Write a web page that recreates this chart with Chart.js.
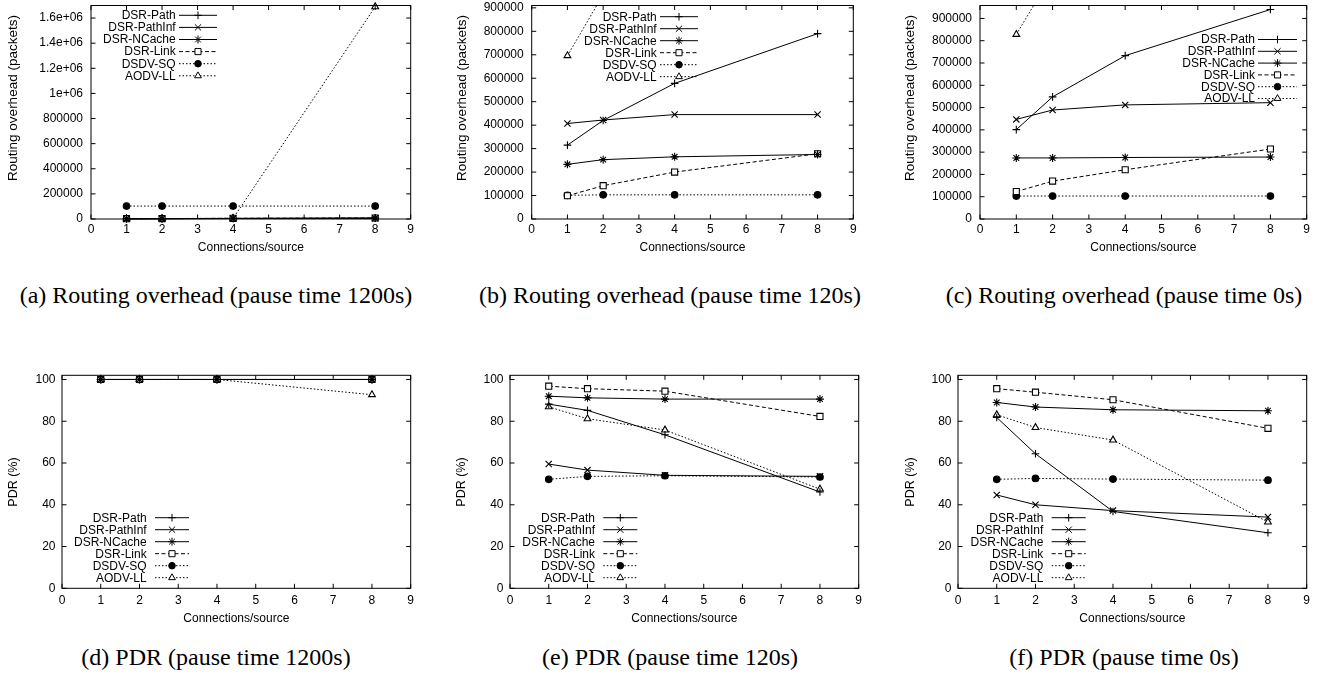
<!DOCTYPE html>
<html>
<head>
<meta charset="utf-8">
<script src="https://cdn.jsdelivr.net/npm/chart.js@4.4.1/dist/chart.umd.min.js"></script>
<style>
  body { margin: 0; background: #fff; }
  #page { position: relative; width: 1323px; height: 678px; overflow: hidden; background: #fff; }
  #page canvas { position: absolute; }
  .caption { position: absolute; width: 460px; text-align: center; white-space: nowrap;
             font: 24px/24px 'Liberation Serif', 'Times New Roman', serif; color: #000; }
</style>
</head>
<body>
<div id="page"></div>
<script>
// ---- data ----
const connections = [1, 2, 4, 8];
const protocols = ['DSR-Path', 'DSR-PathInf', 'DSR-NCache', 'DSR-Link', 'DSDV-SQ', 'AODV-LL'];

// tick values
const xTicks = [0, 1, 2, 3, 4, 5, 6, 7, 8, 9];
const overheadTicksWide = [0, 200000, 400000, 600000, 800000, 1000000, 1200000, 1400000, 1600000];
const overheadTicks = [0, 100000, 200000, 300000, 400000, 500000, 600000, 700000, 800000, 900000];
const pdrTicks = [0, 20, 40, 60, 80, 100];

// routing overhead in packets, one row per protocol (same order as above)
const overhead1200 = [
  [1500, 2500, 4000, 6000],
  [1500, 2500, 4000, 6000],
  [2000, 3000, 5000, 7000],
  [2500, 3500, 5500, 8000],
  [103000, 103000, 103000, 103000],
  [2000, 3000, 5000, 1690000]
];
const overhead120 = [
  [315000, 420000, 578000, 790000],
  [407000, 422000, 445000, 445000],
  [233000, 253000, 265000, 275000],
  [99000, 142000, 200000, 278000],
  [101000, 103000, 103000, 103000],
  [696000, 957000, 1350000, 1900000]
];
const overhead0 = [
  [401000, 548000, 733000, 940000],
  [447000, 489000, 512000, 522000],
  [274000, 274000, 276000, 278000],
  [123000, 170000, 221000, 314000],
  [103000, 103000, 103000, 103000],
  [828000, 1100000, 1500000, 2100000]
];

// packet delivery ratio in %
const pdr1200 = [
  [100, 100, 100, 100],
  [100, 100, 100, 100],
  [100, 100, 100, 100],
  [100, 100, 100, 100],
  [100, 100, 100, 100],
  [100, 100, 100, 92.7]
];
const pdr120 = [
  [88.2, 85.2, 73.5, 46.1],
  [59.5, 56.6, 54.1, 53.6],
  [92.0, 91.2, 90.6, 90.6],
  [96.8, 95.6, 94.4, 82.3],
  [52.2, 53.6, 53.9, 53.3],
  [86.9, 81.2, 75.8, 47.5]
];
const pdr0 = [
  [81.8, 64.4, 36.8, 26.6],
  [44.7, 40.0, 37.2, 34.1],
  [89.0, 86.8, 85.5, 85.0],
  [95.6, 93.9, 90.3, 76.6],
  [52.2, 52.6, 52.3, 51.8],
  [83.1, 77.0, 71.0, 31.7]
];

// ---- styles ----
const seriesStyle = [
  { dash: [],       point: 'cross',    r: 3.8, fill: '#000' },
  { dash: [],       point: 'crossRot', r: 4.4, fill: '#000' },
  { dash: [],       point: 'star',     r: 4.0, fill: '#000' },
  { dash: [4, 2.5], point: 'rect',     r: 4.3, fill: '#fff' },
  { dash: [1.5, 2], point: 'circle',   r: 3.3, fill: '#000' },
  { dash: [1.5, 2], point: 'triangle', r: 3.9, fill: '#fff' }
];

const FONT = "'Liberation Sans', Arial, Helvetica, sans-serif";

function gnuLabel(v) {
  if (v >= 1e6) return (Math.round(v / 1e5) / 10) + 'e+06';
  return String(v);
}

const panels = [
  { data: overhead1200, yTicks: overheadTicksWide, yMax: 1700000, yTitle: 'Routing overhead (packets)',
    caption: '(a) Routing overhead (pause time 1200s)', capX: 216, capTop: 283,
    box: { left: 0, top: 0, width: 425, height: 262 }, plot: { left: 91, right: 410.7, top: 5, bottom: 219 },
    yTitleX: 13.5, yTitleY: 98, yTitleSize: 13.5, yPad: 8, xPad: 3.8, xTitleY: 247.7,
    legend: { right: 175.7, x1: 179, x2: 217, y: 15.3, step: 12.1 } },
  { data: overhead120, yTicks: overheadTicks, yMax: 910000, yTitle: 'Routing overhead (packets)',
    caption: '(b) Routing overhead (pause time 120s)', capX: 670, capTop: 283,
    box: { left: 440, top: 0, width: 425, height: 262 }, plot: { left: 531.7, right: 853.3, top: 4.3, bottom: 219 },
    yTitleX: 462, yTitleY: 98, yTitleSize: 13.5, yPad: 8, xPad: 3.8, xTitleY: 247.7,
    legend: { right: 656.7, x1: 660, x2: 698, y: 16.7, step: 12 } },
  { data: overhead0, yTicks: overheadTicks, yMax: 958000, yTitle: 'Routing overhead (packets)',
    caption: '(c) Routing overhead (pause time 0s)', capX: 1124, capTop: 283,
    box: { left: 880, top: 0, width: 440, height: 262 }, plot: { left: 980, right: 1306.7, top: 4.3, bottom: 219 },
    yTitleX: 910.5, yTitleY: 98, yTitleSize: 13.5, yPad: 8, xPad: 3.8, xTitleY: 247.7,
    legend: { right: 1255, x1: 1258, x2: 1297, y: 39.5, step: 11.8 } },
  { data: pdr1200, yTicks: pdrTicks, yMax: 102, yTitle: 'PDR (%)',
    caption: '(d) PDR (pause time 1200s)', capX: 216, capTop: 645.2,
    box: { left: 0, top: 340, width: 425, height: 292 }, plot: { left: 62, right: 410.7, top: 375.3, bottom: 588.3 },
    yTitleX: 13.5, yTitleY: 482, yTitleSize: 12.5, yPad: 6.5, xPad: 5.5, xTitleY: 619,
    legend: { right: 146.7, x1: 155, x2: 189, y: 517.7, step: 12 } },
  { data: pdr120, yTicks: pdrTicks, yMax: 102, yTitle: 'PDR (%)',
    caption: '(e) PDR (pause time 120s)', capX: 670, capTop: 645.2,
    box: { left: 440, top: 340, width: 425, height: 292 }, plot: { left: 510, right: 858.7, top: 375.3, bottom: 588.3 },
    yTitleX: 461.5, yTitleY: 482, yTitleSize: 12.5, yPad: 6.5, xPad: 5.5, xTitleY: 619,
    legend: { right: 595, x1: 603.3, x2: 637.3, y: 517.7, step: 12 } },
  { data: pdr0, yTicks: pdrTicks, yMax: 102, yTitle: 'PDR (%)',
    caption: '(f) PDR (pause time 0s)', capX: 1124, capTop: 645.2,
    box: { left: 880, top: 340, width: 440, height: 292 }, plot: { left: 958, right: 1306.7, top: 375.3, bottom: 588.3 },
    yTitleX: 911, yTitleY: 482, yTitleSize: 12.5, yPad: 6.5, xPad: 5.5, xTitleY: 619,
    legend: { right: 1043.3, x1: 1051.7, x2: 1085.7, y: 517.7, step: 12 } }
];

// frame, inward mirrored ticks, y label and a gnuplot style key
const gnuplotDecor = {
  id: 'gnuplotDecor',
  afterDraw(chart, args, opts) {
    const p = opts.panel;
    const ctx = chart.ctx;
    const a = chart.chartArea;
    const xs = chart.scales.x, ys = chart.scales.y;
    const ox = p.box.left, oy = p.box.top;
    const tick = 4.5;
    ctx.save();
    ctx.strokeStyle = '#000';
    ctx.lineWidth = 1;
    ctx.setLineDash([]);
    ctx.beginPath();
    xs.ticks.forEach(t => {
      const x = xs.getPixelForValue(t.value);
      ctx.moveTo(x, a.bottom); ctx.lineTo(x, a.bottom - tick);
      ctx.moveTo(x, a.top); ctx.lineTo(x, a.top + tick);
    });
    ys.ticks.forEach(t => {
      const y = ys.getPixelForValue(t.value);
      ctx.moveTo(a.left, y); ctx.lineTo(a.left + tick, y);
      ctx.moveTo(a.right, y); ctx.lineTo(a.right - tick, y);
    });
    ctx.stroke();
    ctx.strokeRect(a.left, a.top, a.right - a.left, a.bottom - a.top);

    // y axis label, rotated
    ctx.save();
    ctx.translate(p.yTitleX - ox, p.yTitleY - oy);
    ctx.rotate(-Math.PI / 2);
    ctx.font = p.yTitleSize + 'px ' + FONT;
    ctx.fillStyle = '#000';
    ctx.textAlign = 'center';
    ctx.textBaseline = 'middle';
    ctx.fillText(p.yTitle, 0, 0);
    ctx.restore();

    // key
    const lg = p.legend;
    ctx.font = '12px ' + FONT;
    ctx.textAlign = 'right';
    ctx.textBaseline = 'middle';
    chart.data.datasets.forEach((ds, i) => {
      const y = lg.y + i * lg.step - oy;
      ctx.fillStyle = '#000';
      ctx.fillText(ds.label, lg.right - ox, y + 0.5);
      ctx.setLineDash(ds.borderDash || []);
      ctx.beginPath();
      ctx.moveTo(lg.x1 - ox, y); ctx.lineTo(lg.x2 - ox, y);
      ctx.stroke();
      ctx.setLineDash([]);
      ctx.fillStyle = ds.pointBackgroundColor;
      Chart.helpers.drawPoint(ctx, { pointStyle: ds.pointStyle, radius: ds.pointRadius, rotation: 0, borderWidth: 1 },
        (lg.x1 + lg.x2) / 2 - ox, y);
    });
    ctx.restore();
  }
};

Chart.defaults.font.family = FONT;
Chart.defaults.font.size = 12;
Chart.defaults.color = '#000';

const page = document.getElementById('page');

panels.forEach(p => {
  const c = document.createElement('canvas');
  c.style.left = p.box.left + 'px';
  c.style.top = p.box.top + 'px';
  c.style.width = p.box.width + 'px';
  c.style.height = p.box.height + 'px';
  c.width = p.box.width; c.height = p.box.height;
  page.appendChild(c);

  const cap = document.createElement('div');
  cap.className = 'caption';
  cap.textContent = p.caption;
  cap.style.left = (p.capX - 230) + 'px';
  cap.style.top = p.capTop + 'px';
  page.appendChild(cap);

  const datasets = protocols.map((name, i) => {
    const st = seriesStyle[i];
    const over = Math.max(...p.data[i]) > p.yMax;
    return {
      label: name,
      data: connections.map((x, k) => ({ x: x, y: p.data[i][k] })),
      borderColor: '#000',
      borderWidth: 1,
      borderDash: st.dash,
      pointStyle: st.point,
      pointRadius: st.r,
      pointBorderWidth: 1.1,
      pointBorderColor: '#000',
      pointBackgroundColor: st.fill,
      backgroundColor: st.fill,
      tension: 0,
      fill: false,
      clip: { left: 8, right: 8, top: over ? 0 : 8, bottom: 8 }
    };
  });

  const lh = 12 * 1.2;
  const zeroPad = s => { s.paddingLeft = 0; s.paddingRight = 0; s.paddingTop = 0; s.paddingBottom = 0; };

  new Chart(c, {
    type: 'line',
    data: { datasets: datasets },
    options: {
      responsive: false,
      animation: false,
      events: [],
      layout: { padding: { left: 0, top: p.plot.top - p.box.top,
                           right: p.box.left + p.box.width - p.plot.right, bottom: 0 } },
      plugins: { legend: { display: false }, tooltip: { enabled: false },
                 gnuplotDecor: { panel: p } },
      scales: {
        x: {
          type: 'linear', min: 0, max: 9, bounds: 'data',
          afterBuildTicks: s => { s.ticks = xTicks.map(v => ({ value: v })); },
          ticks: { autoSkip: false, maxRotation: 0, padding: p.xPad, callback: v => String(v) },
          grid: { display: false, drawTicks: false },
          border: { display: false },
          title: { display: true, text: 'Connections/source', font: { size: 12 },
                   padding: { top: 0, bottom: p.box.top + p.box.height - p.xTitleY - lh / 2 } },
          afterFit: s => { s.height = p.box.top + p.box.height - p.plot.bottom; zeroPad(s); }
        },
        y: {
          type: 'linear', min: 0, max: p.yMax, bounds: 'data',
          afterBuildTicks: s => { s.ticks = p.yTicks.map(v => ({ value: v })); },
          ticks: { autoSkip: false, padding: p.yPad, callback: v => gnuLabel(v) },
          grid: { display: false, drawTicks: false },
          border: { display: false },
          afterFit: s => { s.width = p.plot.left - p.box.left; zeroPad(s); }
        }
      }
    },
    plugins: [gnuplotDecor]
  });
});
</script>
</body>
</html>
